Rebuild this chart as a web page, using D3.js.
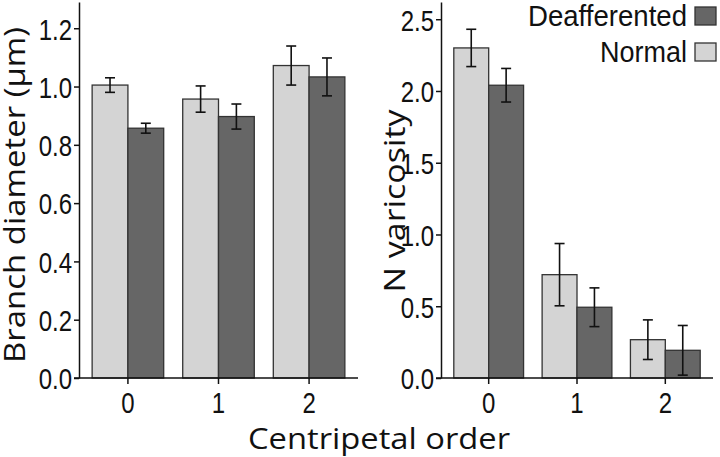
<!DOCTYPE html>
<html><head><meta charset="utf-8">
<script src="https://cdn.jsdelivr.net/npm/d3@7"></script>
<style>body{margin:0;background:#fff}svg{display:block}</style>
</head><body>
<svg id="chart" width="720" height="457"></svg>
<script>
const categories = ["0","1","2"];
const seriesNames = ["Normal","Deafferented"];
const diamNormal = [1.005, 0.957, 1.072];
const diamNormalErr = [0.025, 0.045, 0.067];
const diamDeaff = [0.857, 0.897, 1.033];
const diamDeaffErr = [0.017, 0.043, 0.065];
const varNormal = [2.30, 0.72, 0.267];
const varNormalErr = [0.13, 0.217, 0.138];
const varDeaff = [2.04, 0.493, 0.193];
const varDeaffErr = [0.117, 0.135, 0.173];
const diamTicks = [0, 0.2, 0.4, 0.6, 0.8, 1.0, 1.2];
const varTicks = [0, 0.5, 1.0, 1.5, 2.0, 2.5];
const legendItems = ["Deafferented","Normal"];
const colors = {Normal:"#d4d4d4", Deafferented:"#666666"};

const svg = d3.select("#chart");
const tickFont = "'Liberation Sans',Arial,sans-serif";
const titleFont = "'Open Sans','Noto Sans',sans-serif";

function squeeze(sel, ratio){
  sel.each(function(){
    const w = this.getComputedTextLength();
    d3.select(this).attr("textLength", w*ratio).attr("lengthAdjust","spacingAndGlyphs");
  });
}

function panel(cfg){
  const g = svg.append("g");
  const x = d3.scaleBand().domain(categories).range([cfg.x0, cfg.x1]).paddingInner(0.21).paddingOuter(0.145);
  const xs = d3.scaleBand().domain(seriesNames).range([0, x.bandwidth()]);
  const y = d3.scaleLinear().domain([0, cfg.ymax]).range([378, 2]);
  const data = categories.map((c,i)=>[
    {c, s:"Normal", v:cfg.n[i], e:cfg.ne[i]},
    {c, s:"Deafferented", v:cfg.d[i], e:cfg.de[i]}
  ]).flat();
  g.selectAll("rect.bar").data(data).join("rect").attr("class","bar")
    .attr("x", d=>x(d.c)+xs(d.s)).attr("width", xs.bandwidth())
    .attr("y", d=>y(d.v)).attr("height", d=>y(0)-y(d.v))
    .attr("fill", d=>colors[d.s]).attr("stroke","#333").attr("stroke-width",1.3);
  const cap = 5;
  const cx = d=>x(d.c)+xs(d.s)+xs.bandwidth()/2;
  const eb = g.selectAll("g.err").data(data).join("g").attr("class","err")
    .attr("stroke","#111").attr("stroke-width",1.6);
  eb.append("line").attr("x1",cx).attr("x2",cx).attr("y1",d=>y(d.v+d.e)).attr("y2",d=>y(d.v-d.e));
  eb.append("line").attr("x1",d=>cx(d)-cap).attr("x2",d=>cx(d)+cap).attr("y1",d=>y(d.v+d.e)).attr("y2",d=>y(d.v+d.e));
  eb.append("line").attr("x1",d=>cx(d)-cap).attr("x2",d=>cx(d)+cap).attr("y1",d=>y(d.v-d.e)).attr("y2",d=>y(d.v-d.e));

  const ya = g.append("g").attr("transform",`translate(${cfg.x0},0)`)
    .call(d3.axisLeft(y).tickValues(cfg.ticks).tickFormat(d3.format(".1f")).tickSize(5).tickPadding(2).tickSizeOuter(0));
  ya.select(".domain").attr("stroke","#111").attr("stroke-width",1.5);
  ya.selectAll(".tick line").attr("stroke","#111").attr("stroke-width",1.5);
  ya.selectAll(".tick text").attr("font-family",tickFont).attr("font-size",30).attr("fill","#111").attr("dy","0.36em")
    .call(squeeze, 0.8);
  const xa = g.append("g").attr("transform","translate(0,378)")
    .call(d3.axisBottom(x).tickSize(6).tickPadding(7).tickSizeOuter(0));
  xa.select(".domain").attr("d",`M${cfg.x0-5},0H${cfg.x1}`).attr("stroke","#111").attr("stroke-width",1.5);
  xa.selectAll(".tick line").attr("stroke","#111").attr("stroke-width",1.5);
  xa.selectAll(".tick text").attr("font-family",tickFont).attr("font-size",30).attr("fill","#111").attr("dy","0.72em")
    .call(squeeze, 0.8);
  g.append("text").attr("transform",`translate(${cfg.tx},${cfg.ty}) rotate(-90)`)
    .attr("text-anchor","middle").attr("font-family",titleFont).attr("font-size",30).attr("fill","#111")
    .attr("textLength",cfg.tl).attr("lengthAdjust","spacingAndGlyphs").text(cfg.title);
}

panel({x0:79, x1:358, ymax:1.29, ticks:diamTicks, n:diamNormal, ne:diamNormalErr, d:diamDeaff, de:diamDeaffErr,
  title:"Branch diameter (\u03bcm)", tx:25, ty:195, tl:336});
panel({x0:441, x1:713, ymax:2.62, ticks:varTicks, n:varNormal, ne:varNormalErr, d:varDeaff, de:varDeaffErr,
  title:"N varicosity", tx:405, ty:201, tl:183});

svg.append("text").attr("x",379).attr("y",449).attr("text-anchor","middle")
  .attr("font-family",titleFont).attr("font-size",30).attr("fill","#111")
  .attr("textLength",262).attr("lengthAdjust","spacingAndGlyphs").text("Centripetal order");

const legendWidths = [159, 87];
const lg = svg.append("g").selectAll("g").data(legendItems).join("g")
  .attr("transform",(d,i)=>`translate(0,${i*36})`);
lg.append("rect").attr("x",695).attr("y",7).attr("width",21).attr("height",18)
  .attr("fill",d=>colors[d]).attr("stroke","#333").attr("stroke-width",1.3);
lg.append("text").attr("x",687).attr("y",26).attr("text-anchor","end")
  .attr("font-family",tickFont).attr("font-size",29).attr("fill","#111")
  .attr("textLength",(d,i)=>legendWidths[i]).attr("lengthAdjust","spacingAndGlyphs").text(d=>d);
</script>
</body></html>
